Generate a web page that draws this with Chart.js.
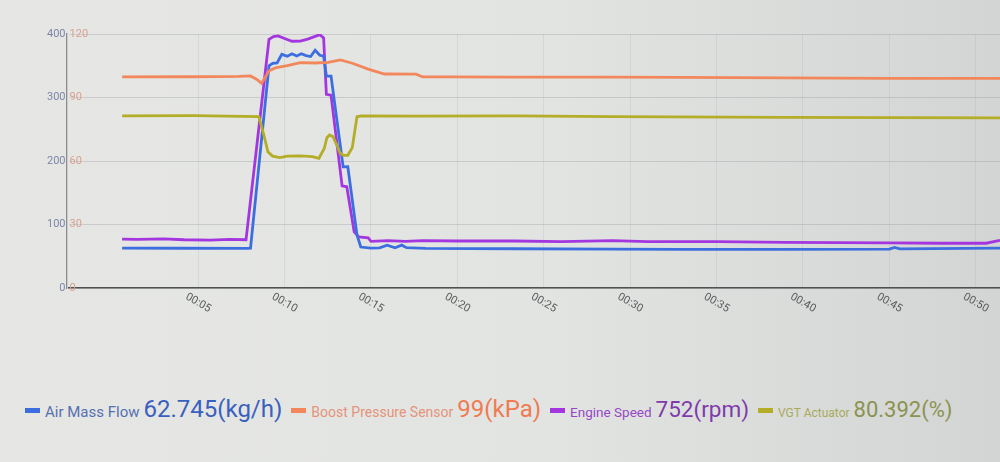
<!DOCTYPE html>
<html>
<head>
<meta charset="utf-8">
<script src="https://cdn.jsdelivr.net/npm/chart.js@4"></script>
<style>
  html, body { margin: 0; padding: 0; }
  body {
    width: 1000px; height: 462px; overflow: hidden;
    background: linear-gradient(90deg, #e6e7e5 0%, #e2e4e2 55%, #d3d5d4 100%);
    font-family: Roboto, "Noto Sans", sans-serif;
  }
  #wrap { position: absolute; left: 0; top: 0; width: 1000px; height: 340px; }
  #legend {
    position: absolute; left: 25px; top: 395px;
    display: flex; align-items: baseline; white-space: nowrap;
  }
  .item { display: flex; align-items: baseline; margin-right: 9px; }
  .mark { display: inline-block; width: 15px; height: 5px; margin-right: 5px; position: relative; top: -4px; }
  .lab { margin-right: 4px; }
</style>
</head>
<body>
<div id="wrap"><canvas id="c"></canvas></div>
<div id="legend"></div>
<script>
(function () {
  'use strict';

  // ── Data (seconds / units as shown) ──────────────────────────────────
  var xTicks = [5, 10, 15, 20, 25, 30, 35, 40, 45, 50];

  // Air Mass Flow (kg/h), left axis
  var mafT = [0.6, 4.0, 7.87, 8.03, 9.10, 9.31, 9.57, 9.84, 10.16, 10.43, 10.7, 10.97, 11.24, 11.51, 11.77, 12.04, 12.26, 12.42, 12.69, 13.39, 13.66, 14.19, 14.41, 15.0, 15.5, 15.94, 16.39, 16.78, 17.06, 18.17, 23.3, 29.0, 33.0, 39.0, 45.0, 45.3, 45.6, 51.4];
  var mafV = [62.7, 62.6, 62.5, 62.8, 350, 353.8, 354.5, 368, 365, 368.8, 365.5, 369, 366, 364.5, 374.5, 366.5, 365, 333.8, 333.8, 190.7, 191, 83.4, 64.5, 62.9, 63.1, 67.5, 63.4, 67.5, 63.5, 62.4, 61.8, 61.3, 60.9, 60.8, 61.2, 63.8, 61.5, 62.7];

  // Boost Pressure Sensor (kPa), right axis
  var boostT = [0.6, 4.84, 7.34, 8.03, 8.40, 8.67, 9.10, 9.47, 10.16, 10.91, 11.77, 12.53, 13.23, 13.92, 14.84, 15.78, 17.61, 18.0, 19.44, 23.28, 29.02, 33.0, 38.94, 45.06, 51.4];
  var boostV = [99.7, 99.8, 100, 100.2, 98.5, 96.7, 102.6, 104, 105.1, 106.5, 106.3, 106.6, 107.8, 106.2, 103.4, 101.1, 101, 99.7, 99.7, 99.6, 99.6, 99.5, 99.3, 99.0, 99.0];

  // Engine Speed (rpm), drawn on the left axis at 1/10
  var rpmT = [0.6, 1.5, 3.0, 4.2, 5.7, 6.8, 7.77, 9.10, 9.36, 9.63, 10.0, 10.43, 10.91, 11.34, 12.04, 12.26, 12.42, 12.69, 13.33, 13.6, 14.03, 14.3, 14.84, 15.0, 16.0, 17.0, 18.0, 20.0, 23.3, 26.0, 29.0, 31.0, 35.0, 39.0, 42.0, 45.0, 48.0, 50.6, 51.4];
  var rpmV = [770, 765, 775, 760, 755, 765, 760, 3917, 3960, 3970, 3930, 3886, 3889, 3920, 3990, 3940, 3050, 3036, 1608, 1594, 885, 805, 790, 735, 745, 735, 745, 740, 740, 730, 745, 730, 730, 720, 715, 710, 705, 705, 752];
  var rpmScale = 0.1;

  // VGT Actuator (%), right axis
  var vgtT = [0.6, 4.8, 8.51, 8.78, 9.04, 9.31, 9.73, 10.16, 10.91, 11.61, 11.99, 12.3, 12.45, 12.6, 12.8, 13.0, 13.2, 13.4, 13.66, 13.92, 14.19, 14.46, 17.61, 23.28, 29.0, 38.94, 51.4];
  var vgtV = [81.3, 81.4, 81.0, 73, 64.3, 62.3, 61.6, 62.3, 62.4, 62.1, 61.3, 66, 71, 72.3, 71.5, 68, 64, 62.7, 62.7, 66.4, 80.9, 81.3, 81.2, 81.3, 81.0, 80.6, 80.4];

  var names = ['Air Mass Flow', 'Boost Pressure Sensor', 'Engine Speed', 'VGT Actuator'];
  var current = ['62.745', '99', '752', '80.392'];
  var units = ['(kg/h)', '(kPa)', '(rpm)', '(%)'];

  // styling
  var lineCol = ['#3d6ee0', '#f2875c', '#a436df', '#b3ad27'];
  var labCol = ['#5570b0', '#e5937a', '#9748c4', '#a9aa5a'];
  var valCol = ['#3a60bf', '#f07a52', '#7e3aac', '#8c9250'];
  var labSize = [15, 14, 13.5, 12];
  var valSize = [24, 24, 22.5, 22];

  function pts(ts, vs, k) {
    return ts.map(function (t, i) { return { x: t, y: vs[i] * (k || 1) }; });
  }

  function fmtTime(s) {
    var m = Math.floor(s / 60), r = Math.round(s % 60);
    return (m < 10 ? '0' : '') + m + ':' + (r < 10 ? '0' : '') + r;
  }

  // ── Legend ───────────────────────────────────────────────────────────
  var lg = document.getElementById('legend');
  names.forEach(function (n, i) {
    var d = document.createElement('div');
    d.className = 'item';
    d.innerHTML = '<span class="mark" style="background:' + lineCol[i] + '"></span>' +
      '<span class="lab" style="color:' + labCol[i] + ';font-size:' + labSize[i] + 'px">' + n + '</span>' +
      '<span class="val" style="color:' + valCol[i] + ';font-size:' + valSize[i] + 'px">' + current[i] + units[i] + '</span>';
    lg.appendChild(d);
  });

  // rotated time labels under the x axis
  var xLabels = {
    id: 'xLabels',
    afterDraw: function (chart) {
      var sc = chart.scales.x, ctx = chart.ctx;
      ctx.save();
      ctx.font = '11px Roboto';
      ctx.fillStyle = '#5a5c5e';
      ctx.textAlign = 'center';
      ctx.textBaseline = 'middle';
      sc.ticks.forEach(function (t) {
        ctx.save();
        ctx.translate(sc.getPixelForValue(t.value), sc.bottom + 15);
        ctx.rotate(Math.PI / 6);
        ctx.fillText(fmtTime(t.value), 0, 0);
        ctx.restore();
      });
      ctx.restore();
    }
  };

  function ds(i, data, axis) {
    return {
      label: names[i], data: data, yAxisID: axis,
      borderColor: lineCol[i], backgroundColor: lineCol[i],
      borderWidth: 2.8, pointRadius: 0, tension: 0, fill: false
    };
  }

  var canvas = document.getElementById('c');
  canvas.width = 1000; canvas.height = 340;

  new Chart(canvas.getContext('2d'), {
    type: 'line',
    data: {
      datasets: [
        ds(3, pts(vgtT, vgtV), 'y1'),
        ds(1, pts(boostT, boostV), 'y1'),
        ds(0, pts(mafT, mafV), 'y'),
        ds(2, pts(rpmT, rpmV, rpmScale), 'y')
      ]
    },
    plugins: [xLabels],
    options: {
      responsive: false,
      animation: false,
      layout: { padding: { left: 46, top: 34, right: 0, bottom: 52 } },
      plugins: { legend: { display: false }, tooltip: { enabled: false } },
      scales: {
        x: {
          type: 'linear', min: -2.5, max: 51.4,
          afterBuildTicks: function (axis) {
            axis.ticks = xTicks.map(function (v) { return { value: v }; });
          },
          ticks: { display: false },
          grid: { color: 'rgba(150,155,160,0.18)', drawTicks: false },
          border: { display: true, color: '#4e5052', width: 1.5 }
        },
        y: {
          position: 'left', weight: 1, min: 0, max: 400,
          ticks: { stepSize: 100, color: '#7b86a6', font: { size: 11, family: 'Roboto' }, padding: 1 },
          grid: { color: 'rgba(140,145,150,0.32)', drawTicks: false },
          border: { display: true, color: '#8a8c8e', width: 1.3 }
        },
        y1: {
          position: 'left', weight: 0, min: 0, max: 120,
          ticks: { stepSize: 30, mirror: true, color: '#d9a08e', font: { size: 11, family: 'Roboto' }, padding: 1 },
          grid: { display: false, drawTicks: false },
          border: { display: false }
        }
      }
    }
  });
})();
</script>
</body>
</html>
